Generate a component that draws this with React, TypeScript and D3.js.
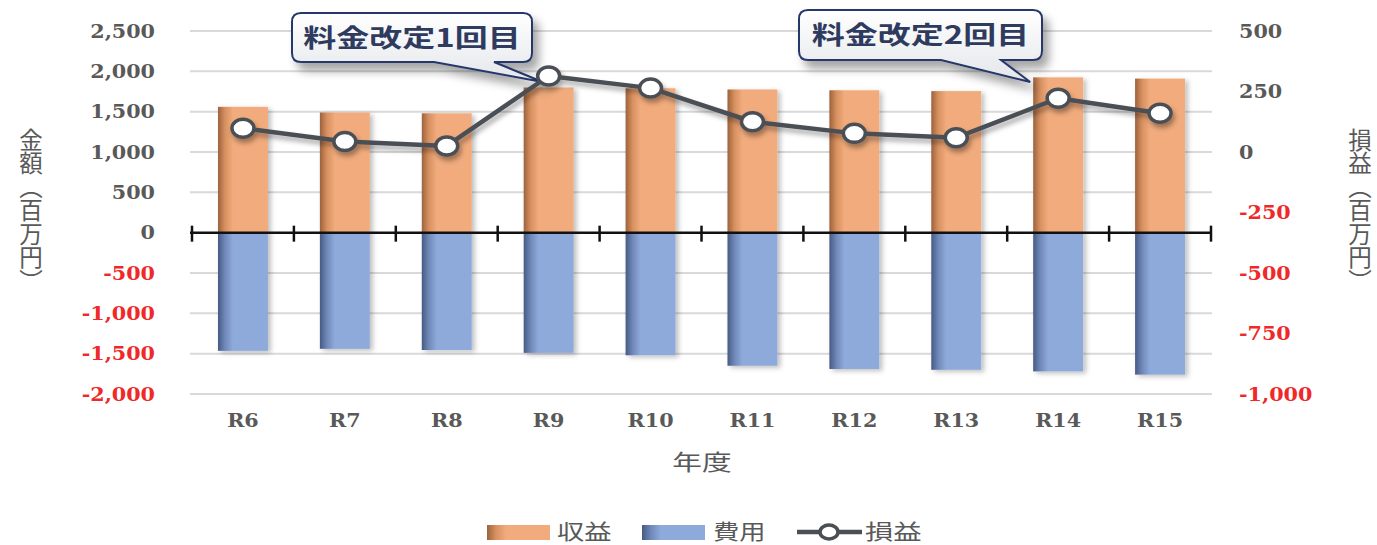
import React from 'react';
import * as d3 from 'd3';

// chart values (百万円)
const categories = ['R6', 'R7', 'R8', 'R9', 'R10', 'R11', 'R12', 'R13', 'R14', 'R15'];
const revenue = [1560, 1490, 1480, 1800, 1790, 1775, 1765, 1755, 1925, 1910];
const expense = [-1465, -1440, -1455, -1490, -1520, -1650, -1690, -1700, -1720, -1760];
const profit = [98, 43, 25, 314, 264, 125, 77, 59, 222, 160];

const leftTicks = [2500, 2000, 1500, 1000, 500, 0, -500, -1000, -1500, -2000];
const rightTicks = [500, 250, 0, -250, -500, -750, -1000];

const annotations = [
  { label: '料金改定1回目', category: 'R9' },
  { label: '料金改定2回目', category: 'R14' },
];

const W = 1377;
const H = 545;
const plot = { left: 192, right: 1211, top: 31, bottom: 394 };

const fmt = d3.formatLocale({ decimal: '.', thousands: ',', grouping: [3], currency: ['', ''], minus: '-' }).format(',');

const ORANGE = '#f1ab7c';
const BLUE = '#8eaadb';
const LINE = '#4a4f55';
const GRAY_TEXT = '#595959';
const RED_TEXT = '#f02828';
const NAVY = '#26386a';

// box placement for the callouts (layout only)
const calloutBoxes = [
  { x: 292, y: 13, w: 240, h: 49, tipDx: -6 },
  { x: 799, y: 10, w: 243, h: 50, tipDx: -28 },
];

function calloutPath(b: { x: number; y: number; w: number; h: number }, tx: number, ty: number) {
  const r = 9;
  const { x, y, w, h } = b;
  const bl = x + 142;
  const br = x + 202;
  return [
    `M${x + r},${y}`,
    `H${x + w - r}`,
    `Q${x + w},${y} ${x + w},${y + r}`,
    `V${y + h - r}`,
    `Q${x + w},${y + h} ${x + w - r},${y + h}`,
    `H${br}`,
    `L${tx},${ty}`,
    `L${bl},${y + h}`,
    `H${x + r}`,
    `Q${x},${y + h} ${x},${y + h - r}`,
    `V${y + r}`,
    `Q${x},${y} ${x + r},${y}`,
    'Z',
  ].join(' ');
}

function SText({ x, y, sx = 1.15, children, ...rest }: any) {
  return (
    <text transform={`translate(${x},${y}) scale(${sx},1)`} {...rest}>
      {children}
    </text>
  );
}

export default function App() {
  const x = d3.scaleBand<string>().domain(categories).range([plot.left, plot.right]).padding(0);
  const bw = x.bandwidth();
  const barW = bw * 0.49;
  const cx = (c: string) => (x(c) as number) + bw / 2;

  const yL = d3.scaleLinear().domain([-2000, 2500]).range([plot.bottom, plot.top]);
  const yR = d3.scaleLinear().domain([-1000, 500]).range([plot.bottom, plot.top]);

  const line = d3
    .line<number>()
    .x((_, i) => cx(categories[i]))
    .y((d) => yR(d));

  const y0 = yL(0);
  const serif = '"DejaVu Serif", serif';
  const cjk = '"Noto Sans CJK JP", "Noto Sans", sans-serif';

  return (
    <svg width={W} height={H} style={{ display: 'block', position: 'absolute', left: 0, top: 0 }}>
      <defs>
        <linearGradient id="gOrange" x1="0" x2="1" y1="0" y2="0">
          <stop offset="0%" stopColor="#9c623d" />
          <stop offset="14%" stopColor="#d7905f" />
          <stop offset="30%" stopColor={ORANGE} />
          <stop offset="100%" stopColor={ORANGE} />
        </linearGradient>
        <linearGradient id="gBlue" x1="0" x2="1" y1="0" y2="0">
          <stop offset="0%" stopColor="#465a84" />
          <stop offset="14%" stopColor="#6f88b8" />
          <stop offset="30%" stopColor={BLUE} />
          <stop offset="100%" stopColor={BLUE} />
        </linearGradient>
        <linearGradient id="gBox" x1="0" x2="0" y1="0" y2="1">
          <stop offset="0%" stopColor="#ffffff" />
          <stop offset="100%" stopColor="#e4e6ea" />
        </linearGradient>
        <filter id="barShadow" x="-20%" y="-10%" width="140%" height="120%">
          <feDropShadow dx="3" dy="2" stdDeviation="2.5" floodColor="#000" floodOpacity="0.25" />
        </filter>
        <filter id="lineShadow" x="-10%" y="-30%" width="120%" height="160%">
          <feDropShadow dx="2" dy="4" stdDeviation="2.5" floodColor="#000" floodOpacity="0.35" />
        </filter>
        <filter id="boxShadow" x="-10%" y="-20%" width="130%" height="170%">
          <feDropShadow dx="6" dy="8" stdDeviation="5" floodColor="#000" floodOpacity="0.35" />
        </filter>
      </defs>

      <rect width={W} height={H} fill="#fff" />

      {/* gridlines */}
      {leftTicks.filter((t) => t !== 0).map((t) => (
        <line key={t} x1={plot.left - 2} x2={plot.right + 1} y1={yL(t)} y2={yL(t)} stroke="#d9d9d9" strokeWidth={2} />
      ))}

      {/* bars */}
      <g filter="url(#barShadow)">
        {categories.map((c, i) => (
          <rect key={'r' + c} x={cx(c) - barW / 2} y={yL(revenue[i])} width={barW} height={y0 - yL(revenue[i])} fill="url(#gOrange)" />
        ))}
        {categories.map((c, i) => (
          <rect key={'e' + c} x={cx(c) - barW / 2} y={y0} width={barW} height={yL(expense[i]) - y0} fill="url(#gBlue)" />
        ))}
      </g>

      {/* zero axis */}
      <line x1={plot.left - 2} x2={plot.right + 1} y1={y0} y2={y0} stroke="#111" strokeWidth={2.5} />
      {d3.range(categories.length + 1).map((i) => (
        <line key={i} x1={plot.left + i * bw} x2={plot.left + i * bw} y1={y0 - 7} y2={y0 + 9} stroke="#111" strokeWidth={2.5} />
      ))}

      {/* callouts */}
      {annotations.map((a, k) => {
        const b = calloutBoxes[k];
        const tx = cx(a.category) + b.tipDx;
        const ty = 82;
        return (
          <g key={a.label}>
            <path d={calloutPath(b, tx, ty)} fill="url(#gBox)" stroke={NAVY} strokeWidth={2} filter="url(#boxShadow)" />
            <SText x={b.x + b.w / 2} y={b.y + b.h / 2 + 9} sx={1.32} textAnchor="middle" fontFamily={cjk} fontWeight={700} fontSize={25} fill="#2e3b5f">
              {a.label}
            </SText>
          </g>
        );
      })}

      {/* profit line */}
      <g filter="url(#lineShadow)">
        <path d={line(profit) as string} fill="none" stroke={LINE} strokeWidth={4.5} strokeLinejoin="round" />
        {categories.map((c, i) => (
          <ellipse key={c} cx={cx(c)} cy={yR(profit[i])} rx={11} ry={9} fill="#fff" stroke={LINE} strokeWidth={3.5} />
        ))}
      </g>

      {/* left axis labels */}
      {leftTicks.map((t) => (
        <SText key={t} x={155} y={yL(t) + 6.5} textAnchor="end" fontFamily={serif} fontWeight={700} fontSize={18} fill={t < 0 ? RED_TEXT : GRAY_TEXT}>
          {fmt(t)}
        </SText>
      ))}
      {/* right axis labels */}
      {rightTicks.map((t) => (
        <SText key={t} x={1239} y={yR(t) + 6.5} textAnchor="start" fontFamily={serif} fontWeight={700} fontSize={18} fill={t < 0 ? RED_TEXT : GRAY_TEXT}>
          {fmt(t)}
        </SText>
      ))}

      {/* category labels */}
      {categories.map((c) => (
        <SText key={c} x={cx(c)} y={427} textAnchor="middle" fontFamily={serif} fontWeight={700} fontSize={18} fill={GRAY_TEXT}>
          {c}
        </SText>
      ))}

      {/* axis titles */}
      <SText x={702} y={470} sx={1.35} textAnchor="middle" fontFamily={cjk} fontSize={22} fill={GRAY_TEXT}>
        年度
      </SText>
      <text x={31} y={128} fontFamily={cjk} fontSize={23.5} fill={GRAY_TEXT} style={{ writingMode: 'vertical-rl' }}>
        金額（百万円）
      </text>
      <text x={1360} y={128} fontFamily={cjk} fontSize={23.5} fill={GRAY_TEXT} style={{ writingMode: 'vertical-rl' }}>
        損益（百万円）
      </text>

      {/* legend */}
      <g>
        <rect x={487} y={525} width={63} height={15} fill="url(#gOrange)" />
        <SText x={557} y={539} sx={1.3} fontFamily={cjk} fontSize={21} fill={GRAY_TEXT}>収益</SText>
        <rect x={642} y={525} width={63} height={15} fill="url(#gBlue)" />
        <SText x={713} y={539} sx={1.25} fontFamily={cjk} fontSize={21} fill={GRAY_TEXT}>費用</SText>
        <line x1={797} x2={862} y1={532} y2={532} stroke={LINE} strokeWidth={4.5} />
        <ellipse cx={829} cy={532} rx={9} ry={7} fill="#fff" stroke={LINE} strokeWidth={3.5} />
        <SText x={865} y={539} sx={1.35} fontFamily={cjk} fontSize={21} fill={GRAY_TEXT}>損益</SText>
      </g>
    </svg>
  );
}
